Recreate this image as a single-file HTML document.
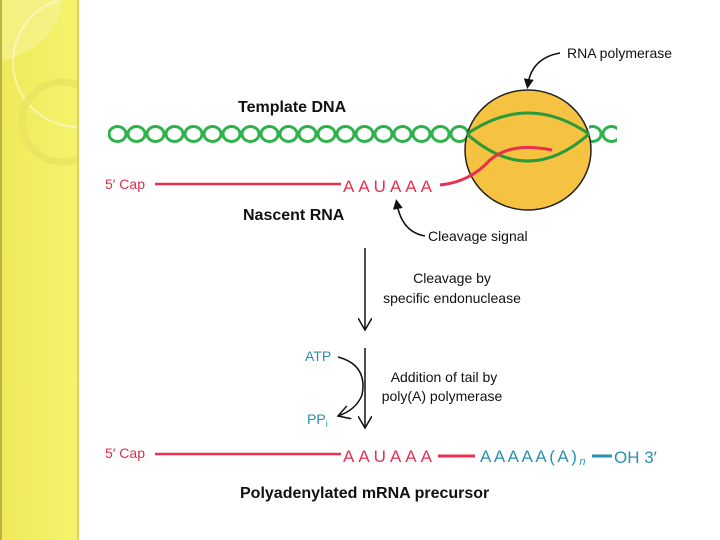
<!DOCTYPE html>
<html><head><meta charset="utf-8"><style>
html,body{margin:0;padding:0;background:#fff;}
svg{display:block;}
text{font-family:"Liberation Sans",sans-serif;}
</style></head><body>
<svg width="720" height="540" viewBox="0 0 720 540" xmlns="http://www.w3.org/2000/svg">
<defs>
<linearGradient id="yg" x1="0" y1="0" x2="1" y2="0">
<stop offset="0" stop-color="#eeea5a"/><stop offset="1" stop-color="#f5f36e"/>
</linearGradient>
<clipPath id="cl"><rect x="0" y="0" width="78" height="540"/></clipPath>
<pattern id="hx" x="108" y="124" width="19" height="20" patternUnits="userSpaceOnUse">
<ellipse cx="9.5" cy="10" rx="8.5" ry="7.5" fill="none" stroke="#2fb24a" stroke-width="3"/>
</pattern>
<marker id="ah" markerWidth="10" markerHeight="10" refX="5" refY="5" orient="auto" markerUnits="userSpaceOnUse">
<path d="M0,0 L10,5 L0,10 Z" fill="#111"/>
</marker>
<marker id="ao" markerWidth="14" markerHeight="14" refX="12" refY="7" orient="auto" markerUnits="userSpaceOnUse">
<path d="M0,0 L12,7 L0,14" fill="none" stroke="#111" stroke-width="1.5"/>
</marker>
</defs>
<rect x="0" y="0" width="78" height="540" fill="url(#yg)"/>
<g clip-path="url(#cl)">
<path d="M0,0 H62 Q60,45 0,62 Z" fill="#f6f49a" opacity="0.6"/>
<circle cx="78" cy="62" r="65" fill="none" stroke="#fafad0" stroke-width="2" opacity="0.7"/>
<circle cx="62" cy="122" r="40" fill="none" stroke="#e8e460" stroke-width="7" opacity="0.8"/>
</g>
<rect x="0" y="0" width="2" height="540" fill="#b8b640"/>
<rect x="77" y="0" width="2" height="540" fill="#d6d45a"/>

<text x="238" y="112" font-size="16" font-weight="bold" fill="#111">Template DNA</text>
<text x="567" y="58" font-size="14" fill="#111">RNA polymerase</text>
<path d="M560,53 Q532,58 528,84" fill="none" stroke="#111" stroke-width="1.6" marker-end="url(#ah)"/>

<rect x="108" y="124" width="361" height="20" fill="url(#hx)"/>
<rect x="589" y="124" width="28" height="20" fill="url(#hx)"/>
<ellipse cx="528" cy="150" rx="63" ry="60" fill="#f5c242" stroke="#222" stroke-width="1.5"/>
<path d="M467,134 Q528,92 589,134" fill="none" stroke="#2a9a3a" stroke-width="3"/>
<path d="M467,134 Q528,188 589,134" fill="none" stroke="#2a9a3a" stroke-width="3"/>
<path d="M440,185 Q470,182 490,160 Q510,142 552,150" fill="none" stroke="#e8304f" stroke-width="3"/>

<text x="105" y="189" font-size="14" fill="#d8304f">5′ Cap</text>
<line x1="155" y1="184" x2="341" y2="184" stroke="#e8304f" stroke-width="2.5"/>
<text x="343" y="192" font-size="17" fill="#e8304f" letter-spacing="4">AAUAAA</text>
<text x="243" y="220" font-size="16" font-weight="bold" fill="#111">Nascent RNA</text>
<path d="M425,236 Q402,232 397,204" fill="none" stroke="#111" stroke-width="1.6" marker-end="url(#ah)"/>
<text x="428" y="241" font-size="14" fill="#111">Cleavage signal</text>

<line x1="365" y1="248" x2="365" y2="330" stroke="#111" stroke-width="1.5" marker-end="url(#ao)"/>
<text x="452" y="283" font-size="14" fill="#111" text-anchor="middle">Cleavage by</text>
<text x="452" y="303" font-size="14" fill="#111" text-anchor="middle">specific endonuclease</text>

<line x1="365" y1="348" x2="365" y2="428" stroke="#111" stroke-width="1.5" marker-end="url(#ao)"/>
<text x="305" y="361" font-size="14" fill="#2a8fb0">ATP</text>
<text x="307" y="424" font-size="14" fill="#2a8fb0">PP<tspan font-size="9" dy="3">i</tspan></text>
<path d="M338,357 Q368,365 362,395 Q356,410 338,416" fill="none" stroke="#111" stroke-width="1.5" marker-end="url(#ao)"/>
<text x="444" y="382" font-size="14" fill="#111" text-anchor="middle">Addition of tail by</text>
<text x="442" y="401" font-size="14" fill="#111" text-anchor="middle">poly(A) polymerase</text>

<text x="105" y="458" font-size="14" fill="#d8304f">5′ Cap</text>
<line x1="155" y1="454" x2="341" y2="454" stroke="#e8304f" stroke-width="2.5"/>
<text x="343" y="462" font-size="17" fill="#e8304f" letter-spacing="4">AAUAAA</text>
<line x1="438" y1="456" x2="475" y2="456" stroke="#e8304f" stroke-width="3"/>
<text x="480" y="462" font-size="17" fill="#2a8fb0" letter-spacing="2.5">AAAAA(A)<tspan font-size="11" font-style="italic" dy="3">n</tspan></text>
<line x1="592" y1="456" x2="612" y2="456" stroke="#2a8fb0" stroke-width="3"/>
<text x="614" y="463" font-size="17" fill="#2a8fb0">OH 3′</text>
<text x="240" y="498" font-size="16" font-weight="bold" fill="#111">Polyadenylated mRNA precursor</text>
</svg>
</body></html>
